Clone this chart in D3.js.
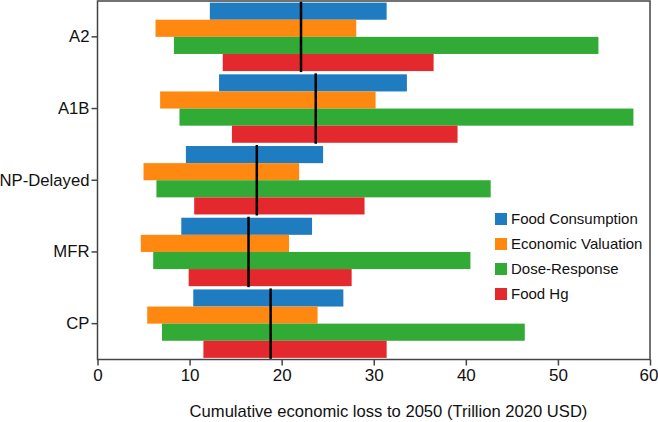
<!DOCTYPE html>
<html><head><meta charset="utf-8">
<script src="https://cdn.jsdelivr.net/npm/d3@7"></script>
<style>body{margin:0;background:#fff}svg{display:block;font-family:"Liberation Sans",Arial,sans-serif}</style>
</head><body><svg id="c" width="658" height="422"></svg>
<script>
const scenarios = ["A2","A1B","NP-Delayed","MFR","CP"];
const series = ["Food Consumption","Economic Valuation","Dose-Response","Food Hg"];
const colors = ["#1f7cc1","#ff8811","#31ab35","#e3292e"];
// [low, high] per scenario, per series
const foodConsumption = [[12.2,31.4],[13.2,33.6],[9.6,24.5],[9.1,23.3],[10.4,26.7]];
const economicValuation = [[6.3,28.1],[6.8,30.2],[5.0,21.9],[4.7,20.8],[5.4,23.9]];
const doseResponse = [[8.3,54.4],[8.9,58.2],[6.4,42.7],[6.05,40.5],[7.0,46.4]];
const foodHg = [[13.6,36.5],[14.6,39.1],[10.5,29.0],[9.9,27.6],[11.5,31.4]];
const medians = [22.1,23.7,17.3,16.4,18.8];
const xTicks = [0,10,20,30,40,50,60];
const xTitle = "Cumulative economic loss to 2050 (Trillion 2020 USD)";

const allSeries = [foodConsumption, economicValuation, doseResponse, foodHg];
const svg = d3.select("#c");
const L = 97.5, R = 650, T = 1, B = 359.5;
const x = d3.scaleLinear().domain([0,60]).range([L,R]);
const y = d3.scaleBand().domain(scenarios).range([T,B]).paddingInner(0).paddingOuter(0);
const inner = d3.scaleBand().domain(series).range([0,y.bandwidth()]).paddingOuter(0.095).paddingInner(0);

const g = svg.append("g");
scenarios.forEach((s,i)=>{
  series.forEach((ser,j)=>{
    const v = allSeries[j][i];
    g.append("rect").attr("x",x(v[0])).attr("y",y(s)+inner(ser))
      .attr("width",x(v[1])-x(v[0])).attr("height",inner.bandwidth()).attr("fill",colors[j]);
  });
  g.append("line").attr("x1",x(medians[i])).attr("x2",x(medians[i]))
    .attr("y1",y(s)+inner(series[0])-1).attr("y2",y(s)+inner(series[3])+inner.bandwidth()+1)
    .attr("stroke","#000").attr("stroke-width",2.5);
});

// frame
svg.append("rect").attr("x",L).attr("y",T).attr("width",R-L).attr("height",B-T)
  .attr("fill","none").attr("stroke","#444").attr("stroke-width",1.5);

const xa = svg.append("g").attr("transform",`translate(0,${B})`)
  .call(d3.axisBottom(x).tickValues(xTicks).tickSize(6).tickPadding(3).tickFormat(d3.format("d")));
xa.select(".domain").remove();
xa.selectAll("line").attr("stroke","#444").attr("stroke-width",1.5);
xa.selectAll("text").attr("font-size",17).attr("fill","#111").attr("font-family","Liberation Sans, Arial, sans-serif")
  .attr("dx",d=>d===60?-1.5:0);

const ya = svg.append("g").attr("transform",`translate(${L},0)`)
  .call(d3.axisLeft(y).tickSize(6).tickPadding(2));
ya.select(".domain").remove();
ya.selectAll("line").attr("stroke","#444").attr("stroke-width",1.5);
ya.selectAll("text").attr("font-size",16.7).attr("fill","#111").attr("font-family","Liberation Sans, Arial, sans-serif");

svg.append("text").attr("x",388.5).attr("y",417).attr("text-anchor","middle")
  .attr("font-size",16.6).attr("fill","#111").text(xTitle);

// legend
const lg = svg.append("g");
series.forEach((s,j)=>{
  const yy = 219 + j*25;
  lg.append("rect").attr("x",495).attr("y",yy-6).attr("width",12).attr("height",12).attr("fill",colors[j]);
  lg.append("text").attr("x",511).attr("y",yy).attr("dy","0.35em").attr("font-size",15).attr("fill","#111").text(s);
});
</script></body></html>
